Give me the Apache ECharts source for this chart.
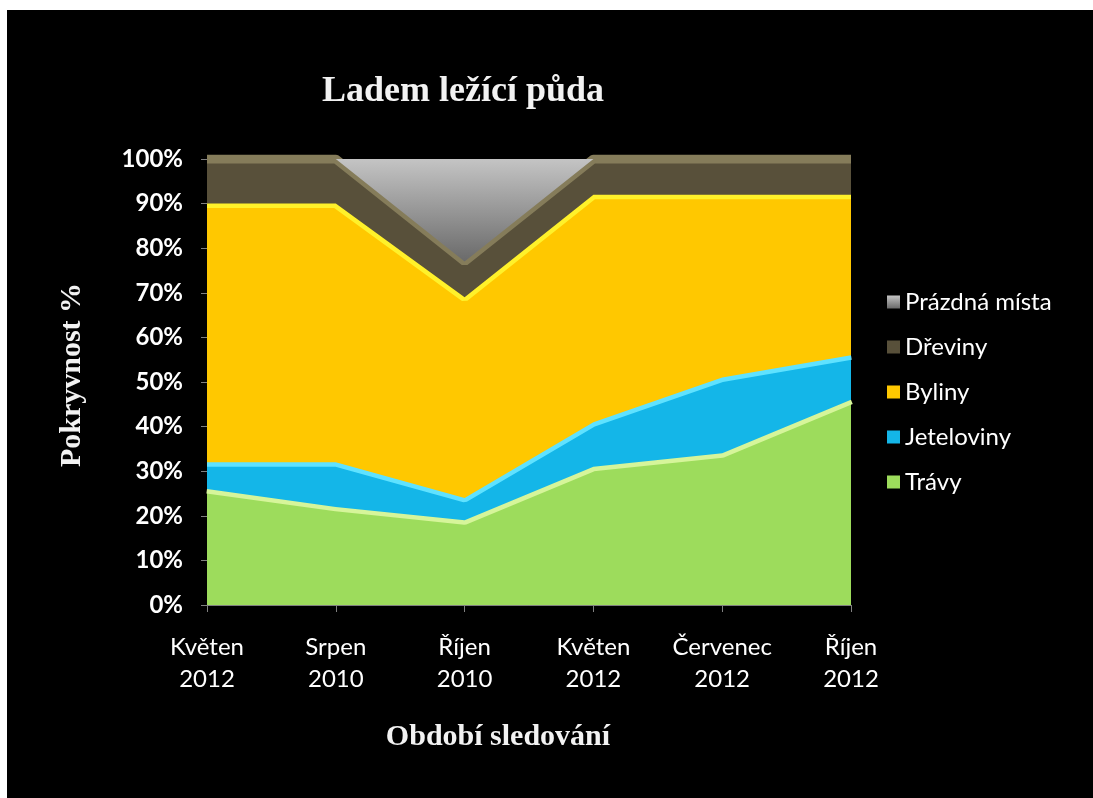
<!DOCTYPE html>
<html>
<head>
<meta charset="utf-8">
<script src="https://cdn.jsdelivr.net/npm/echarts@6/dist/echarts.min.js"></script>
<style>
  html, body { margin: 0; padding: 0; background: #ffffff; }
  #chart { width: 1093px; height: 798px; }
</style>
</head>
<body>
<div id="chart"></div>
<script>
// Observation periods
const categories = ['Květen\n2012', 'Srpen\n2010', 'Říjen\n2010', 'Květen\n2012', 'Červenec\n2012', 'Říjen\n2012'];

// Cover share of each plant group (%)
const travy      = [26, 22, 19, 31, 34, 46];
const jeteloviny = [6, 10, 5, 10, 17, 10];
const byliny     = [58, 58, 45, 51, 41, 36];
const dreviny    = [10, 10, 8, 8, 8, 8];
const prazdna    = [0, 0, 23, 0, 0, 0];

const seriesNames = ['Trávy', 'Jeteloviny', 'Byliny', 'Dřeviny', 'Prázdná místa'];
const yTicks = { min: 0, max: 100, interval: 10 };

const sansFont = 'Lato, "Open Sans", sans-serif';
const serifFont = '"Liberation Serif", "DejaVu Serif", serif';

function grad(top, bottom) {
  return new echarts.graphic.LinearGradient(0, 0, 0, 1, [
    { offset: 0, color: top },
    { offset: 1, color: bottom }
  ]);
}

// Each band sits one z-level above the band below it, so its area hides the
// upper half of the lower band's edge line, leaving a light rim inside the band.
function areaSeries(idx, data, areaColor, lineColor, lineWidth) {
  return {
    name: seriesNames[idx],
    type: 'line',
    stack: 'cover',
    z: 2 + idx,
    data: data,
    symbol: 'none',
    smooth: false,
    itemStyle: { color: areaColor },
    lineStyle: { color: lineColor, width: lineWidth },
    areaStyle: { color: areaColor, opacity: 1 },
    emphasis: { disabled: true }
  };
}

const chart = echarts.init(document.getElementById('chart'));

chart.setOption({
  backgroundColor: '#000000',
  animation: false,
  grid: { left: 207, right: 242, top: 159, bottom: 193, containLabel: false },
  xAxis: {
    type: 'category',
    data: categories,
    boundaryGap: false,
    axisLine: { show: true, lineStyle: { color: '#808080', width: 1 } },
    axisTick: { show: true, inside: false, length: 7, alignWithLabel: true, lineStyle: { color: '#808080' } },
    axisLabel: {
      color: '#ffffff',
      fontFamily: sansFont,
      fontSize: 24,
      lineHeight: 32,
      margin: 26,
      interval: 0
    },
    splitLine: { show: false }
  },
  yAxis: {
    type: 'value',
    min: yTicks.min,
    max: yTicks.max,
    interval: yTicks.interval,
    axisLine: { show: true, lineStyle: { color: '#808080', width: 1 } },
    axisTick: { show: true, inside: false, length: 6, lineStyle: { color: '#808080' } },
    axisLabel: {
      color: '#ffffff',
      fontFamily: sansFont,
      fontWeight: 'bold',
      fontSize: 24,
      margin: 24,
      formatter: '{value}%'
    },
    splitLine: { show: false }
  },
  legend: {
    orient: 'vertical',
    left: 882,
    top: 285,
    itemWidth: 13,
    itemHeight: 13,
    itemGap: 21,
    icon: 'rect',
    data: ['Prázdná místa', 'Dřeviny', 'Byliny', 'Jeteloviny', 'Trávy'],
    textStyle: { color: '#ffffff', fontFamily: sansFont, fontSize: 24, lineHeight: 24 }
  },
  series: [
    areaSeries(0, travy, '#9ddc5c', '#d6f59a', 9),
    areaSeries(1, jeteloviny, '#14b6e8', '#5fe2ff', 9),
    areaSeries(2, byliny, '#ffc800', '#fff12a', 9),
    areaSeries(3, dreviny, '#58503a', '#857c5a', 9),
    areaSeries(4, prazdna, grad('#c4c4c4', '#6a6a6a'), '#d0d0d0', 0)
  ],
  graphic: [
    { type: 'rect', shape: { x: 0, y: 0, width: 1093, height: 10 }, style: { fill: '#ffffff' }, silent: true },
    { type: 'rect', shape: { x: 0, y: 0, width: 7, height: 798 }, style: { fill: '#ffffff' }, silent: true },
    {
      type: 'text', x: 463, y: 92, silent: true,
      style: { text: 'Ladem ležící půda', fill: '#f2f2f2', font: 'bold 36px ' + serifFont, textAlign: 'center', textVerticalAlign: 'middle' }
    },
    {
      type: 'text', x: 72, y: 375, rotation: Math.PI / 2, silent: true,
      style: { text: 'Pokryvnost %', fill: '#f2f2f2', font: 'bold 30px ' + serifFont, textAlign: 'center', textVerticalAlign: 'middle' }
    },
    {
      type: 'text', x: 498, y: 737, silent: true,
      style: { text: 'Období sledování', fill: '#f2f2f2', font: 'bold 30px ' + serifFont, textAlign: 'center', textVerticalAlign: 'middle' }
    }
  ]
});
</script>
</body>
</html>
